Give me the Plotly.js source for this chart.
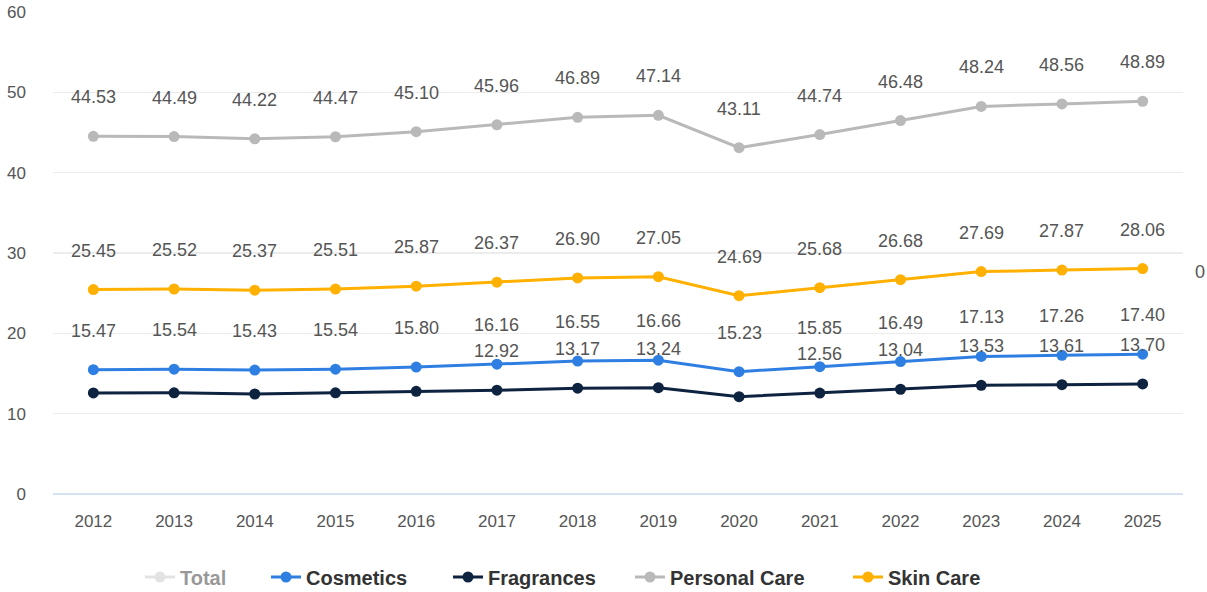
<!DOCTYPE html>
<html>
<head>
<meta charset="utf-8">
<script src="https://cdn.plot.ly/plotly-3.0.1.min.js"></script>
<style>html,body{margin:0;padding:0;background:#fff;}#chart{width:1207px;height:592px;}</style>
</head>
<body>
<div id="chart"></div>
<script>
const years = ['2012','2013','2014','2015','2016','2017','2018','2019','2020','2021','2022','2023','2024','2025'];
const personalCare = [44.53,44.49,44.22,44.47,45.10,45.96,46.89,47.14,43.11,44.74,46.48,48.24,48.56,48.89];
const skinCare = [25.45,25.52,25.37,25.51,25.87,26.37,26.90,27.05,24.69,25.68,26.68,27.69,27.87,28.06];
const cosmetics = [15.47,15.54,15.43,15.54,15.80,16.16,16.55,16.66,15.23,15.85,16.49,17.13,17.26,17.40];
const fragrances = [12.58,12.60,12.45,12.60,12.78,12.92,13.17,13.24,12.12,12.56,13.04,13.53,13.61,13.70];
const total = [98.03,98.15,97.47,98.12,99.55,101.41,103.51,104.09,95.15,98.83,102.69,106.59,107.30,108.05];
// years whose Fragrances label is drawn in the reference (others hidden by overlap)
const fragLabelYears = ['2017','2018','2019','2021','2022','2023','2024','2025'];

const colors = {total:'#c8c8c8', cosmetics:'#2f7fe3', fragrances:'#0e2340', personal:'#b9b9b9', skin:'#ffb000'};

function tr(name, y, color, legendId, extra) {
  return Object.assign({
    type:'scatter', mode:'lines+markers', name:name, x:years, y:y,
    line:{color:color, width:3}, marker:{color:color, size:11},
    hoverinfo:'x+y+name', legend:legendId
  }, extra || {});
}

const data = [
  tr('Total', total, colors.total, 'legend', {visible:'legendonly'}),
  tr('Cosmetics', cosmetics, colors.cosmetics, 'legend2'),
  tr('Fragrances', fragrances, colors.fragrances, 'legend3'),
  tr('Personal Care', personalCare, colors.personal, 'legend4'),
  tr('Skin Care', skinCare, colors.skin, 'legend5')
];

const labelFont = {family:'Liberation Sans, Arial, sans-serif', size:18, color:'#555'};
const annotations = [];
function addLabels(vals, filter) {
  vals.forEach((v, i) => {
    if (filter && filter.indexOf(years[i]) < 0) return;
    annotations.push({x:i, y:v, xref:'x', yref:'y', text:v.toFixed(2),
      showarrow:false, yshift:39, font:labelFont});
  });
}
addLabels(personalCare);
addLabels(skinCare);
addLabels(cosmetics);
addLabels(fragrances, fragLabelYears);
annotations.push({xref:'paper', yref:'paper', x:1+17/1130, y:(494-272)/482, text:'0', showarrow:false,
  xanchor:'center', font:labelFont});

const legendFont = {size:20, color:'#333', family:'Liberation Sans, Arial, sans-serif', weight:'bold'};
function leg(px) {
  return {orientation:'h', x:px/1207, xref:'container', xanchor:'left',
    y:(592-577)/592, yref:'container', yanchor:'middle', font:legendFont,
    itemwidth:30, bgcolor:'rgba(0,0,0,0)', borderwidth:0};
}

const layout = {
  width:1207, height:592,
  margin:{l:53, r:24, t:12, b:98, autoexpand:false},
  paper_bgcolor:'#fff', plot_bgcolor:'#fff',
  font:{family:'Liberation Sans, Arial, sans-serif', color:'#555'},
  xaxis:{type:'category', range:[-0.5,13.5], showgrid:false, zeroline:false, showline:false,
    ticks:'', tickfont:{size:17, color:'#555'}, ticklabelstandoff:15, fixedrange:true},
  yaxis:{range:[0,60], dtick:10, showgrid:true, gridcolor:'#ececec', gridwidth:1.5,
    zeroline:true, zerolinecolor:'#d6e1f1', zerolinewidth:2, showline:false, ticks:'',
    tickfont:{size:17, color:'#555'}, ticklabelstandoff:26, fixedrange:true},
  showlegend:true,
  legend:leg(140), legend2:leg(266), legend3:leg(448), legend4:leg(630), legend5:leg(848),
  annotations:annotations
};

Plotly.newPlot('chart', data, layout, {displayModeBar:false, staticPlot:true});
</script>
</body>
</html>
